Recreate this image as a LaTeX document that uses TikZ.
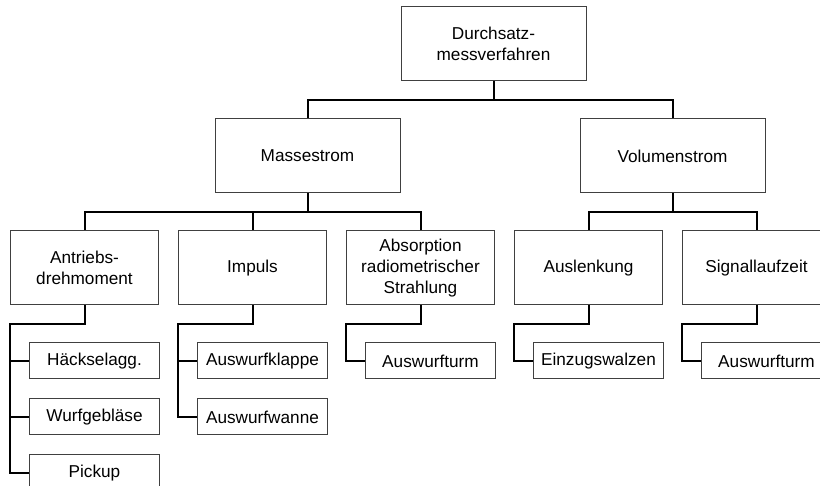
\documentclass[tikz,border=0pt]{standalone}
\usepackage{fontspec}
\setmainfont{Liberation Sans}
\usetikzlibrary{positioning,calc}

\begin{document}
\begin{tikzpicture}[
  node distance = 18.5pt and 9.5pt,
  box/.style = {rectangle, draw=black!75, line width=0.5pt, align=center,
                inner sep=2pt, font=\fontsize{8.6}{10.5}\selectfont},
  main/.style = {box, minimum width=92.5pt, minimum height=37pt},
  sub/.style = {box, minimum width=74pt, minimum height=37pt},
  leaf/.style = {box, minimum width=65pt, minimum height=18pt},
  link/.style = {line width=1pt}
]
\clip (0,0) rectangle (410pt,-243pt);

\node[sub] (ant) at (42.25pt,-134pt) {Antriebs-\\drehmoment};
\node[sub, right=of ant] (imp) {Impuls};
\node[sub, right=of imp] (abs) {Absorption\\radiometrischer\\Strahlung};
\node[sub, right=of abs] (aus) {Auslenkung};
\node[sub, right=of aus] (sig) {Signallaufzeit};

\coordinate (vmid) at ($(aus.north)!0.5!(sig.north)$);
\node[main, above=of vmid] (vol) {Volumenstrom};
\node[main, above=of imp, xshift=27.5pt] (mas) {Massestrom};
\node[main, above=of mas.north east, anchor=south west] (dur) {Durchsatz-\\messverfahren};

\node[leaf, below=of ant.south west, anchor=north west, xshift=9.5pt] (hak) {Häckselagg.};
\node[leaf, below=9.5pt of hak] (wur) {Wurfgebläse};
\node[leaf, below=9.5pt of wur] (pic) {Pickup};

\node[leaf, below=of imp.south west, anchor=north west, xshift=9.5pt] (kla) {Auswurfklappe};
\node[leaf, below=9.5pt of kla] (wan) {Auswurfwanne};

\node[leaf, below=of abs.south west, anchor=north west, xshift=9.5pt] (tu1) {Auswurfturm};
\node[leaf, below=of aus.south west, anchor=north west, xshift=9.5pt] (wal) {Einzugswalzen};
\node[leaf, below=of sig.south west, anchor=north west, xshift=9.5pt] (tu2) {Auswurfturm};

\draw[link] (dur.south) -- ++(0,-9.25pt) -| (mas.north);
\draw[link] (dur.south) -- ++(0,-9.25pt) -| (vol.north);
\foreach \c in {ant,imp,abs}
  \draw[link] (mas.south) -- ++(0,-9.25pt) -| (\c.north);
\foreach \c in {aus,sig}
  \draw[link] (vol.south) -- ++(0,-9.25pt) -| (\c.north);

\foreach \p/\c in {ant/hak,ant/wur,ant/pic,imp/kla,imp/wan,abs/tu1,aus/wal,sig/tu2}
  \draw[link] (\p.south) -- ++(0,-9.25pt) -| (\p.south west |- \c.west) -- (\c.west);
\end{tikzpicture}
\end{document}
